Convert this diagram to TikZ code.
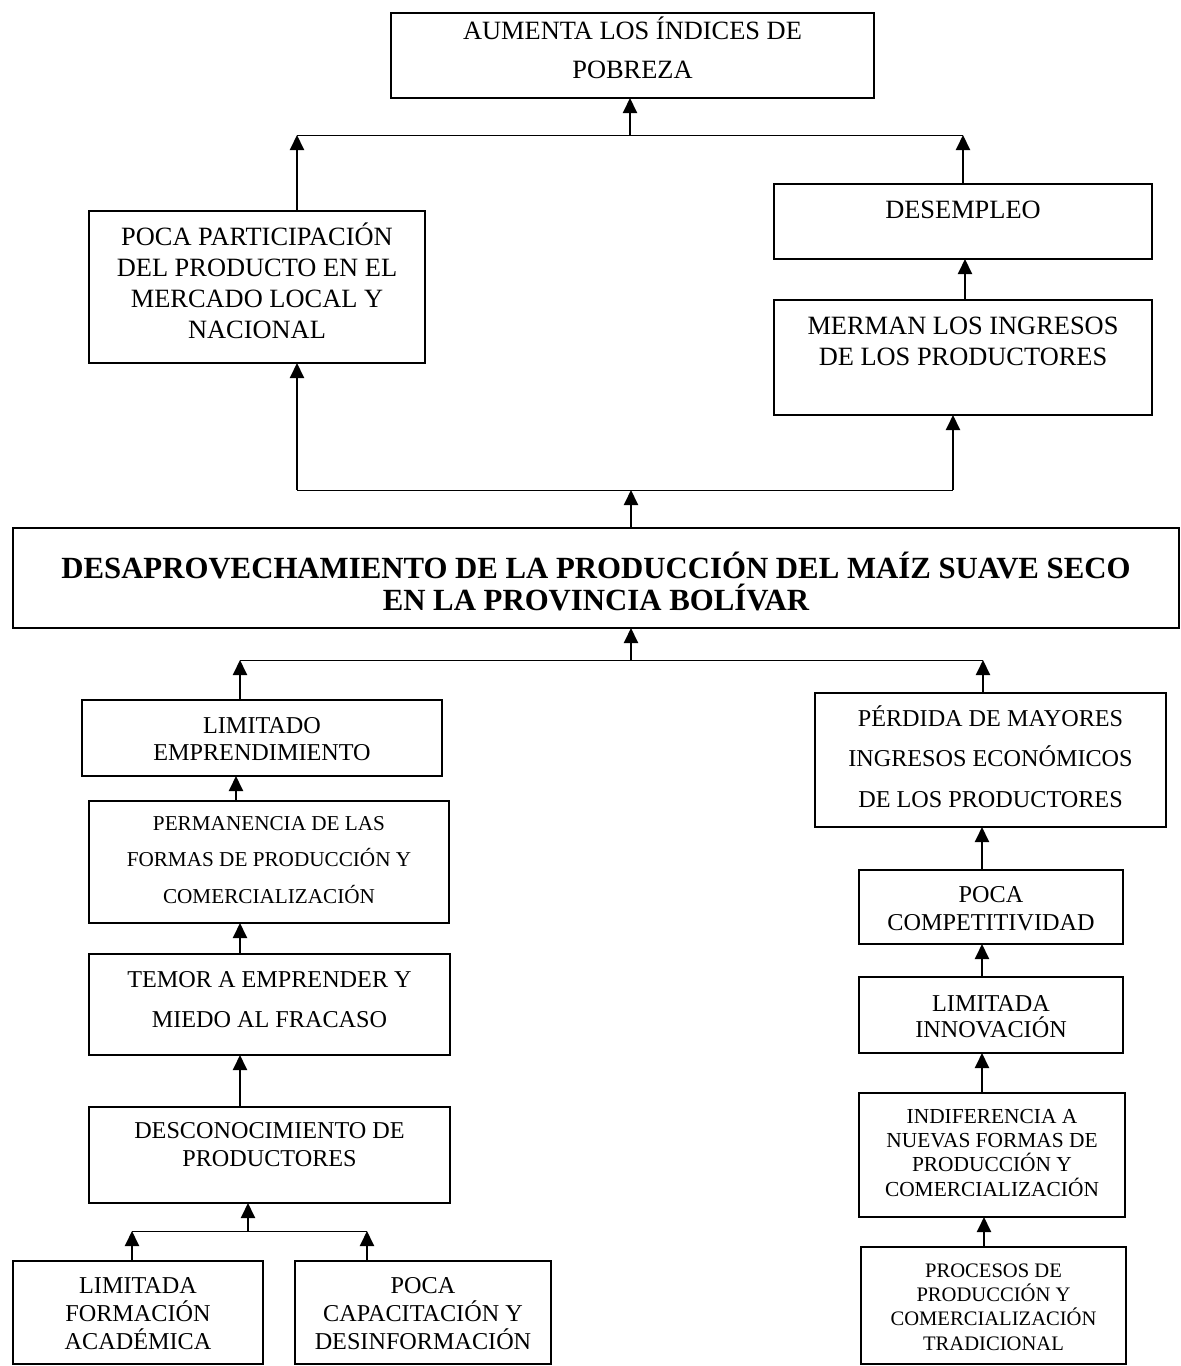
\documentclass[tikz,border=0pt]{standalone}
\usepackage{fontspec}
\setmainfont{Liberation Serif}
\usetikzlibrary{arrows.meta}
\tikzset{
  bx/.style={draw, line width=0.75pt, inner sep=0pt, outer sep=0pt, anchor=north west},
  arr/.style={line width=1pt, -{Triangle[width=7pt,length=7.5pt]}},
  hl/.style={line width=0.5pt},
}
\newcommand{\bxt}[4]{\parbox[t][#2][t]{#1}{\lineskiplimit=-20pt\centering\rule{0pt}{#3}#4}}
\begin{document}
\begin{tikzpicture}[x=0.5pt,y=-0.5pt]
\useasboundingbox (0,0) rectangle (1181,1366);
% boxes
\node[bx, font=\fontsize{13.2}{19.5}\selectfont] (top) at (391,13)
  {\bxt{241.5pt}{42.5pt}{13pt}{AUMENTA LOS ÍNDICES DE\\POBREZA}};
\node[bx, font=\fontsize{13.2}{15.5}\selectfont] (pocapart) at (89,211)
  {\bxt{168pt}{76pt}{17pt}{POCA PARTICIPACIÓN\\DEL PRODUCTO EN EL\\MERCADO LOCAL Y\\NACIONAL}};
\node[bx, font=\fontsize{13.2}{15.5}\selectfont] (desempleo) at (774,184)
  {\bxt{189pt}{37.5pt}{17pt}{DESEMPLEO}};
\node[bx, font=\fontsize{13.2}{15.5}\selectfont] (merman) at (774,300)
  {\bxt{189pt}{57.5pt}{17pt}{MERMAN LOS INGRESOS\\DE LOS PRODUCTORES}};
\node[bx, font=\fontsize{15.4}{16}\bfseries\selectfont] (central) at (13,528)
  {\bxt{583pt}{50pt}{25pt}{DESAPROVECHAMIENTO DE LA PRODUCCIÓN DEL MAÍZ SUAVE SECO\\EN LA PROVINCIA BOLÍVAR}};
\node[bx, font=\fontsize{12.1}{13.5}\selectfont] (limemp) at (82,700)
  {\bxt{180pt}{38pt}{16.5pt}{LIMITADO\\EMPRENDIMIENTO}};
\node[bx, font=\fontsize{10.6}{18.25}\selectfont] (perman) at (89,801)
  {\bxt{180pt}{61pt}{14.5pt}{PERMANENCIA DE LAS\\FORMAS DE PRODUCCIÓN Y\\COMERCIALIZACIÓN}};
\node[bx, font=\fontsize{12.1}{20}\selectfont] (temor) at (89,954)
  {\bxt{180.5pt}{50.5pt}{16.5pt}{TEMOR A EMPRENDER Y\\MIEDO AL FRACASO}};
\node[bx, font=\fontsize{12.1}{14}\selectfont] (descon) at (89,1107)
  {\bxt{180.5pt}{48pt}{15.5pt}{DESCONOCIMIENTO DE\\PRODUCTORES}};
\node[bx, font=\fontsize{12.1}{14}\selectfont] (limform) at (13,1261)
  {\bxt{125pt}{51.5pt}{16pt}{LIMITADA\\FORMACIÓN\\ACADÉMICA}};
\node[bx, font=\fontsize{12.1}{14}\selectfont] (pocacap) at (295,1261)
  {\bxt{128pt}{51.5pt}{16pt}{POCA\\CAPACITACIÓN Y\\DESINFORMACIÓN}};
\node[bx, font=\fontsize{12.1}{20.25}\selectfont] (perdida) at (815,693)
  {\bxt{175.5pt}{67pt}{16.5pt}{PÉRDIDA DE MAYORES\\INGRESOS ECONÓMICOS\\DE LOS PRODUCTORES}};
\node[bx, font=\fontsize{12.1}{14}\selectfont] (pocacomp) at (859,870)
  {\bxt{132pt}{37pt}{16pt}{POCA\\COMPETITIVIDAD}};
\node[bx, font=\fontsize{12.1}{13.3}\selectfont] (liminn) at (859,977)
  {\bxt{132pt}{38pt}{17pt}{LIMITADA\\INNOVACIÓN}};
\node[bx, font=\fontsize{10.7}{12.2}\selectfont] (indif) at (859,1093)
  {\bxt{133pt}{62pt}{15pt}{INDIFERENCIA A\\NUEVAS FORMAS DE\\PRODUCCIÓN Y\\COMERCIALIZACIÓN}};
\node[bx, font=\fontsize{10.3}{12.2}\selectfont] (procesos) at (861,1247)
  {\bxt{132.5pt}{58.5pt}{15pt}{PROCESOS DE\\PRODUCCIÓN Y\\COMERCIALIZACIÓN\\TRADICIONAL}};
% top junction
\coordinate (h1l) at (297,135); \coordinate (h1r) at (963,135); \coordinate (h1c) at (630,135);
\draw[hl] (h1l) -- (h1r);
\draw[arr] (h1l |- pocapart.north) -- (h1l);
\draw[arr] (h1r |- desempleo.north) -- (h1r);
\draw[arr] (h1c) -- (h1c |- top.south);
% upper-middle junction
\coordinate (h2l) at (297,490); \coordinate (h2r) at (953,490); \coordinate (h2c) at (631,490);
\draw[hl] (h2l) -- (h2r);
\draw[arr] (h2c |- central.north) -- (h2c);
\draw[arr] (h2l) -- (h2l |- pocapart.south);
\draw[arr] (h2r) -- (h2r |- merman.south);
\coordinate (xm) at (965,0);
\draw[arr] (xm |- merman.north) -- (xm |- desempleo.south);
% lower junction
\coordinate (h3l) at (240,660); \coordinate (h3r) at (983,660); \coordinate (h3c) at (631,660);
\draw[hl] (h3l) -- (h3r);
\draw[arr] (h3c) -- (h3c |- central.south);
\draw[arr] (h3l |- limemp.north) -- (h3l);
\draw[arr] (h3r |- perdida.north) -- (h3r);
% left chain
\coordinate (xa) at (236,0); \coordinate (xb) at (240,0);
\draw[arr] (xa |- perman.north) -- (xa |- limemp.south);
\draw[arr] (xb |- temor.north) -- (xb |- perman.south);
\draw[arr] (xb |- descon.north) -- (xb |- temor.south);
\coordinate (h4l) at (132,1231); \coordinate (h4r) at (367,1231); \coordinate (h4c) at (248,1231);
\draw[hl] (h4l) -- (h4r);
\draw[arr] (h4c) -- (h4c |- descon.south);
\draw[arr] (h4l |- limform.north) -- (h4l);
\draw[arr] (h4r |- pocacap.north) -- (h4r);
% right chain
\coordinate (xr) at (982,0); \coordinate (xs) at (984,0);
\draw[arr] (xr |- pocacomp.north) -- (xr |- perdida.south);
\draw[arr] (xr |- liminn.north) -- (xr |- pocacomp.south);
\draw[arr] (xr |- indif.north) -- (xr |- liminn.south);
\draw[arr] (xs |- procesos.north) -- (xs |- indif.south);
\end{tikzpicture}
\end{document}
